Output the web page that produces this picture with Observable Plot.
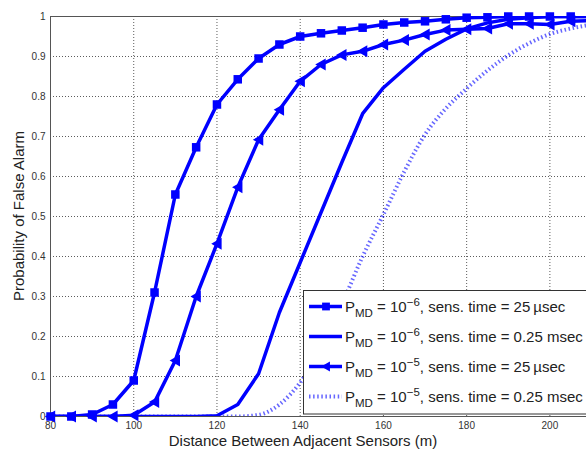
<!DOCTYPE html>
<html>
<head>
<meta charset="utf-8">
<script src="https://cdn.jsdelivr.net/npm/d3@7"></script>
<script src="https://cdn.jsdelivr.net/npm/@observablehq/plot@0.6"></script>
<style>
  html, body { margin: 0; padding: 0; background: white; overflow: hidden; }
  #chart svg { display: block; }
</style>
</head>
<body>
<div id="chart"></div>
<script>
// ---- data ----
const distances = [80,85,90,95,100,105,110,115,120,125,130,135,140,145,150,155,160,165,170,175,180,185,190,195,200,205,210];
const pfaMd6Short = [0,0,0.005,0.03,0.09,0.31,0.555,0.673,0.78,0.843,0.895,0.93,0.95,0.958,0.965,0.972,0.98,0.985,0.988,0.993,0.997,0.998,1,1,1,1,1];
const pfaMd6Long  = [0,0,0,0,0,0,0,0,0.002,0.03,0.107,0.26,0.385,0.51,0.635,0.757,0.822,0.868,0.913,0.943,0.969,0.984,0.993,0.997,1,1,1];
const pfaMd5Short = [0,0,0,0,0.003,0.036,0.14,0.30,0.432,0.573,0.692,0.767,0.838,0.88,0.904,0.913,0.93,0.941,0.955,0.966,0.968,0.97,0.982,0.982,0.98,0.988,0.99];
const pfaMd5Long  = [0,0,0,0,0,0,0,0,0,0,0.004,0.03,0.085,0.17,0.28,0.40,0.505,0.612,0.705,0.77,0.82,0.865,0.903,0.933,0.956,0.97,0.98];
const xTicks = [80,100,120,140,160,180,200];
const yTicks = [0,0.1,0.2,0.3,0.4,0.5,0.6,0.7,0.8,0.9,1];
const legendExps = ["−6","−6","−5","−5"];
const legendRest = [", sens. time = 25\u2009µsec", ", sens. time = 0.25 msec", ", sens. time = 25\u2009µsec", ", sens. time = 0.25 msec"];

const toRows = vals => distances.map((d, i) => ({d, p: vals[i]}));
const s1 = toRows(pfaMd6Short), s2 = toRows(pfaMd6Long), s3 = toRows(pfaMd5Short), s4 = toRows(pfaMd5Long);

const BLUE = "#0000ff";
const triLeft = {
  draw(ctx, size) {
    const r = Math.sqrt(size / Math.PI);
    ctx.moveTo(-r * 1.1, 0);
    ctx.lineTo(r * 0.9, -r * 1.15);
    ctx.lineTo(r * 0.9, r * 1.15);
    ctx.closePath();
  }
};

const font = "'Liberation Sans', Arial, sans-serif";
const DOT = "1.5,2.6";

const chart = Plot.plot({
  width: 586, height: 453,
  marginLeft: 50, marginRight: -5, marginTop: 16, marginBottom: 37,
  x: {domain: [80, 210], ticks: xTicks},
  y: {domain: [0, 1], ticks: yTicks},
  style: {fontFamily: font, fontSize: "10px", color: "#333", background: "white"},
  marks: [
    Plot.gridX(xTicks.filter(t => t > 80), {stroke: "#333", strokeOpacity: 0.8, strokeDasharray: "1,2"}),
    Plot.gridY(yTicks.filter(t => t > 0 && t < 1), {stroke: "#333", strokeOpacity: 0.8, strokeDasharray: "1,2"}),
    Plot.frame({stroke: "#555"}),
    Plot.axisX({ticks: xTicks, tickSize: 0, tickPadding: 5, label: null, fill: "#333"}),
    Plot.axisY({ticks: yTicks, tickSize: 0, tickPadding: 5, label: null, fill: "#333", tickFormat: d => String(+d.toFixed(1))}),
    Plot.line(s1, {x: "d", y: "p", stroke: BLUE, strokeWidth: 3.5, clip: true}),
    Plot.dot(s1.filter(r => r.d <= 205), {x: "d", y: "p", symbol: "square", r: 4.8, fill: BLUE}),
    Plot.line(s2, {x: "d", y: "p", stroke: BLUE, strokeWidth: 3.5, clip: true}),
    Plot.line(s3, {x: "d", y: "p", stroke: BLUE, strokeWidth: 3.5, clip: true}),
    Plot.dot(s3.filter(r => r.d <= 205), {x: "d", y: "p", symbol: triLeft, r: 5.2, fill: BLUE}),
    Plot.line(s4, {x: "d", y: "p", stroke: BLUE, strokeOpacity: 0.6, strokeWidth: 4, strokeDasharray: DOT, strokeLinecap: "butt", curve: "monotone-x", clip: true})
  ]
});
document.getElementById("chart").appendChild(chart);

const svg = d3.select(chart);
// axis titles
svg.append("text").attr("x", 303).attr("y", 446).attr("text-anchor", "middle")
  .attr("font-family", font).attr("font-size", 15).attr("fill", "#222")
  .text("Distance Between Adjacent Sensors (m)");
svg.append("text").attr("transform", "translate(24,216) rotate(-90)").attr("text-anchor", "middle")
  .attr("font-family", font).attr("font-size", 15).attr("fill", "#222")
  .text("Probability of False Alarm");

// legend
const lg = svg.append("g").attr("text-anchor", "start");
lg.append("rect").attr("x", 303.5).attr("y", 290.5).attr("width", 300).attr("height", 123.5)
  .attr("fill", "white").attr("stroke", "#333").attr("stroke-width", 1);
const styles = [
  {dash: null, op: 1, sym: d3.symbolSquare},
  {dash: null, op: 1, sym: null},
  {dash: null, op: 1, sym: triLeft},
  {dash: DOT, op: 0.6, sym: null}
];
styles.forEach((st, i) => {
  const y = 306.5 + i * 30;
  const ln = lg.append("line").attr("x1", 309).attr("x2", 342).attr("y1", y).attr("y2", y)
    .attr("stroke", BLUE).attr("stroke-width", st.dash ? 4 : 3.5).attr("stroke-opacity", st.op)
    .attr("stroke-linecap", "butt");
  if (st.dash) ln.attr("stroke-dasharray", st.dash);
  if (st.sym) {
    lg.append("path").attr("d", d3.symbol(st.sym, Math.PI * 4.4 * 4.4)())
      .attr("transform", `translate(326,${y})`).attr("fill", BLUE);
  }
  const t = lg.append("text").attr("x", 345).attr("y", y + 5).attr("font-family", font)
    .attr("font-size", 15).attr("fill", "#222").attr("text-anchor", "start");
  t.append("tspan").text("P");
  t.append("tspan").attr("font-size", 11.5).attr("dy", 5).text("MD");
  t.append("tspan").attr("dy", -5).text(" = 10");
  t.append("tspan").attr("font-size", 11.5).attr("dy", -6).text(legendExps[i]);
  t.append("tspan").attr("dy", 6).text(legendRest[i]);
});
</script>
</body>
</html>
